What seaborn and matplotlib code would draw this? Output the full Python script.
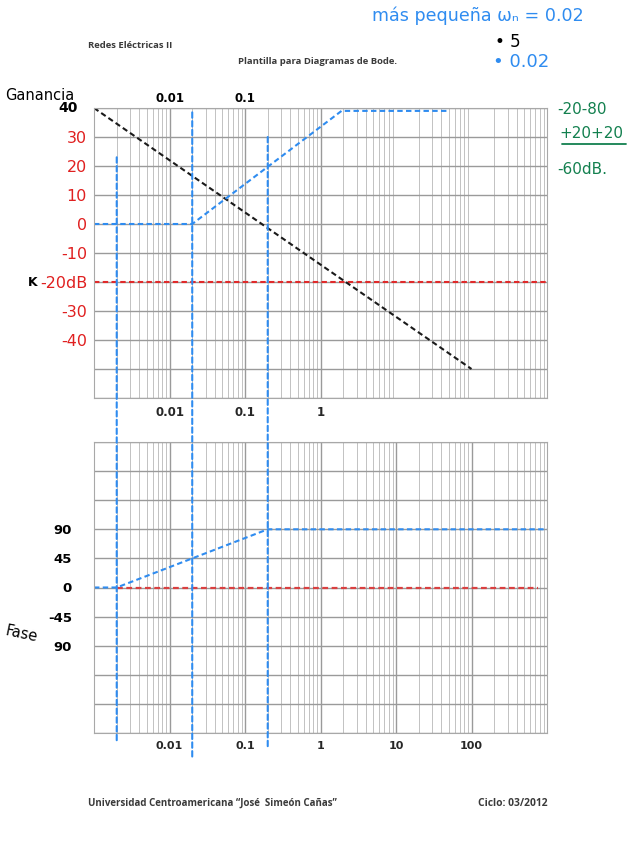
import matplotlib
matplotlib.use("Agg")
import matplotlib.pyplot as plt
import seaborn as sns
from matplotlib.patches import ConnectionPatch
from matplotlib.ticker import LogLocator, NullFormatter

# ---------------- data ----------------
freq_limits = [0.001, 1000]
gain_limits = [-60, 40]
phase_limits = [-225, 225]

gain_black_w = [0.001, 100]
gain_black_db = [40, -50]
gain_blue_w = [0.001, 0.02, 1.9, 50]
gain_blue_db = [0, 0, 39, 39]
gain_red_w = [0.001, 1000]
gain_red_db = [-20, -20]

phase_blue_w = [0.001, 0.002, 0.2, 1000]
phase_blue_deg = [0, 0, 90, 90]
phase_red_w = [0.002, 750]
phase_red_deg = [0, 0]

corner_w = [0.002, 0.02, 0.2]
corner_top_db = [23, 38.5, 30]
corner_bottom_deg = [-237, -263, -247]

gain_ticks = [40, 30, 20, 10, 0, -10, -20, -30, -40, -50, -60]
gain_labels = ["", "30", "20", "10", "0", "-10", "-20dB", "-30", "-40", "", ""]
gain_top_label = "40"
phase_ticks = [225, 180, 135, 90, 45, 0, -45, -90, -135, -180, -225]
phase_labels = ["", "", "", "90", "45", "0", "-45", "90", "", "", ""]
top_xlabels_w = [0.01, 0.1]
top_xlabels = ["0.01", "0.1"]
gain_xticks = [0.01, 0.1, 1]
gain_xticklabels = ["0.01", "0.1", "1"]
phase_xticks = [0.01, 0.1, 1, 10, 100]
phase_xticklabels = ["0.01", "0.1", "1", "10", "100"]

BLUE = "#2f8cf0"
RED = "#e02a2a"
GREEN = "#13804f"
DASH = (0, (2.6, 1.6))

sns.set_theme(style="white")
plt.rcParams["font.family"] = ["DejaVu Sans"]

W, H = 636, 848
fig = plt.figure(figsize=(W / 100, H / 100), dpi=100)
fig.patch.set_facecolor("white")


def axrect(l, t, r, b):
    return [l / W, 1 - b / H, (r - l) / W, (b - t) / H]


ax1 = fig.add_axes(axrect(94, 108, 547, 398))
ax2 = fig.add_axes(axrect(94, 442, 547, 733))

for ax in (ax1, ax2):
    ax.set_xscale("log")
    ax.set_xlim(freq_limits)
    ax.set_facecolor("white")
    ax.xaxis.set_major_locator(LogLocator(base=10, numticks=20))
    ax.xaxis.set_minor_locator(LogLocator(base=10, subs=range(2, 10), numticks=100))
    ax.xaxis.set_minor_formatter(NullFormatter())
    ax.grid(which="major", axis="both", color="#9a9a9a", lw=1.0)
    ax.grid(which="minor", axis="x", color="#c2c2c2", lw=0.7)
    for s in ax.spines.values():
        s.set_color("#a8a8a8")
        s.set_linewidth(0.8)
    ax.tick_params(axis="y", which="major", length=4, color="#9a9a9a", pad=1)
    ax.tick_params(axis="x", which="both", length=0, pad=6)
    ax.set_xlabel("")
    ax.set_ylabel("")

# ----- gain plot -----
ax1.set_ylim(gain_limits)
sns.lineplot(x=gain_red_w, y=gain_red_db, ax=ax1, color=RED, lw=1.5, linestyle=DASH)
sns.lineplot(x=gain_black_w, y=gain_black_db, ax=ax1, color="#1a1a1a", lw=1.5, linestyle=DASH)
sns.lineplot(x=gain_blue_w, y=gain_blue_db, ax=ax1, color=BLUE, lw=1.5, linestyle=DASH)
ax1.set_yticks(gain_ticks)
ax1.set_yticklabels(gain_labels, fontsize=11.5, color="#e02020")
ax1.text(-0.035, gain_ticks[0], gain_top_label, transform=ax1.get_yaxis_transform(),
         ha="right", va="center", fontsize=10, fontweight="bold", color="black")
ax1.set_xticks(gain_xticks)
ax1.set_xticklabels(gain_xticklabels, fontsize=8.5, fontweight="bold")
ax1.xaxis.set_minor_formatter(NullFormatter())
ax1.set_xlim(freq_limits)
for w, t in zip(top_xlabels_w, top_xlabels):
    ax1.text(w, 1.01, t, transform=ax1.get_xaxis_transform(), ha="center", va="bottom",
             fontsize=8.5, fontweight="bold", color="black")

# ----- phase plot -----
ax2.set_ylim(phase_limits)
sns.lineplot(x=phase_red_w, y=phase_red_deg, ax=ax2, color="#d94040", lw=1.6, linestyle=DASH)
sns.lineplot(x=phase_blue_w, y=phase_blue_deg, ax=ax2, color=BLUE, lw=1.5, linestyle=DASH)
ax2.set_yticks(phase_ticks)
ax2.set_yticklabels(phase_labels, fontsize=9.5, fontweight="bold", color="black")
ax2.tick_params(axis="y", pad=12)
ax2.set_xticks(phase_xticks)
ax2.set_xticklabels(phase_xticklabels, fontsize=8, fontweight="bold")
ax2.xaxis.set_minor_formatter(NullFormatter())
ax2.set_xlim(freq_limits)

# vertical corner-frequency lines spanning both plots
for w, top, bot in zip(corner_w, corner_top_db, corner_bottom_deg):
    con = ConnectionPatch(xyA=(w, top), coordsA=ax1.transData,
                          xyB=(w, bot), coordsB=ax2.transData,
                          color=BLUE, lw=1.5, linestyle=DASH, zorder=5)
    fig.add_artist(con)


def ftext(x, y, s, **kw):
    fig.text(x / W, 1 - y / H, s, **kw)


# printed header / footer
hdr = dict(fontfamily="Open Sans", fontweight="bold", color="#3a3a3a")
ftext(88, 46, "Redes Eléctricas II", fontsize=6.8, va="center", **hdr)
ftext(318, 62, "Plantilla para Diagramas de Bode.", fontsize=6.8, va="center", ha="center", **hdr)
ftext(88, 803, "Universidad Centroamericana \u201cJosé  Simeón Cañas\u201d", fontsize=7.0, va="center", **hdr)
ftext(478, 803, "Ciclo: 03/2012", fontsize=7.4, va="center", **hdr)

# handwritten annotations
ftext(372, 16, "más pequeña ωₙ = 0.02", fontsize=12.6, color=BLUE, va="center")
ftext(495, 42, "• 5", fontsize=12, color="black", va="center")
ftext(493, 62, "• 0.02", fontsize=13, color=BLUE, va="center")
ftext(5, 95, "Ganancia", fontsize=10.5, color="black", va="center")
ftext(28, 283, "K", fontsize=9, fontweight="bold", color="black", va="center")
ftext(557, 109, "-20-80", fontsize=11, color=GREEN, va="center")
ftext(559, 133, "+20+20", fontsize=11, color=GREEN, va="center")
fig.add_artist(plt.Line2D([562 / W, 626 / W], [1 - 144 / H, 1 - 144 / H], color=GREEN, lw=1.3))
ftext(557, 170, "-60dB.", fontsize=11, color=GREEN, va="center")
fig.text(4 / W, 1 - 634 / H, "Fase", fontsize=10.5, color="black", va="center",
         rotation=-12)

fig.savefig("out.png", dpi=100, facecolor="white")
